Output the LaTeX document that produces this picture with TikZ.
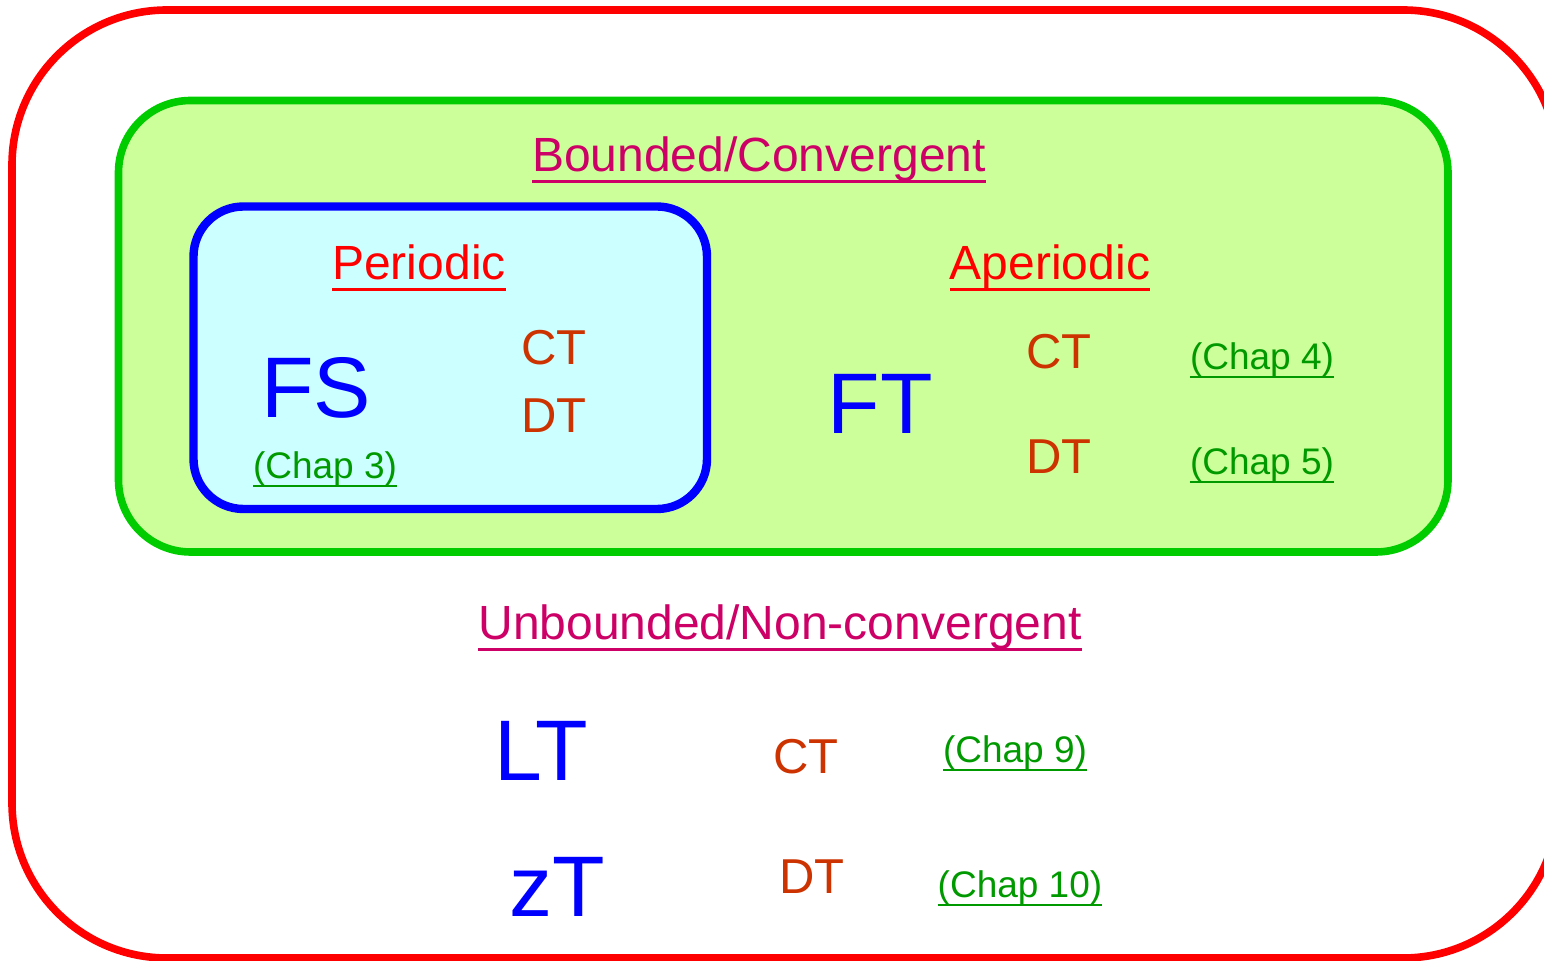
\documentclass[tikz,border=0pt]{standalone}
\usepackage{fontspec}
\setmainfont{Liberation Sans}
\definecolor{ftred}{RGB}{255,0,0}
\definecolor{ftgreen}{RGB}{0,204,0}
\definecolor{ftlime}{RGB}{204,255,153}
\definecolor{ftblue}{RGB}{0,0,255}
\definecolor{ftcyan}{RGB}{204,255,255}
\definecolor{ftrose}{RGB}{204,0,102}
\definecolor{ftrust}{RGB}{204,51,0}
\definecolor{ftchap}{RGB}{0,153,0}
\def\ftUl#1{\setbox0\hbox{#1}\rlap{\vrule height -0.16em depth 0.22em width \wd0}\box0}
\def\ftChap#1#2#3{\node[ftch] (#1) at (#2) {\ftUl{(Chap #3)}};}
\def\ftDom#1#2#3{\node[ftdom] (#1) at (#2) {#3};}

\begin{document}
\begin{tikzpicture}[
    x=0.5pt, y=-0.5pt,
    ftbox/.style  = {line width=3.8pt},
    fthead/.style = {font=\fontsize{24}{28}\selectfont, anchor=base, inner sep=0pt},
    ftbig/.style  = {font=\fontsize{43}{50}\selectfont, text=ftblue, anchor=base, inner sep=0pt},
    ftdom/.style  = {font=\fontsize{24.5}{28}\selectfont, text=ftrust, anchor=base, inner sep=0pt},
    ftch/.style   = {font=\fontsize{18.5}{22}\selectfont, text=ftchap, anchor=base, inner sep=0pt}]

  \useasboundingbox (0,0) rectangle (1544,961);

  %% ---- frames ------------------------------------------------------
  \draw[ftbox, ftred, rounded corners=77.5pt] (12,10) rectangle (1558,958);
  \draw[ftbox, ftgreen, fill=ftlime, rounded corners=36pt] (118.5,100.5) rectangle (1448,552);
  \draw[ftbox, ftblue, fill=ftcyan, rounded corners=25pt, line width=4.2pt] (193.5,206.5) rectangle (707,509);

  %% ---- bounded -----------------------------------------------------
  \node[fthead, text=ftrose] (bnd) at (759,172) {\ftUl{Bounded/Convergent}};

  \node[fthead, text=ftred] (per) at (419,280) {\ftUl{Periodic}};
  \node[ftbig] (fs) at (316,418) {FS};
  \ftDom{perct}{554,365}{CT}
  \ftDom{perdt}{554,433}{DT}
  \ftChap{ch3}{325,479}{3}

  \node[fthead, text=ftred] (aper) at (1050,280) {\ftUl{Aperiodic}};
  \node[ftbig] (ft) at (880,434) {FT};
  \ftDom{aperct}{1059,369}{CT}
  \ftDom{aperdt}{1059,474}{DT}
  \ftChap{ch4}{1262,370}{4}
  \ftChap{ch5}{1262,475}{5}

  %% ---- unbounded ---------------------------------------------------
  \node[fthead, text=ftrose] (unb) at (780,640) {\ftUl{Unbounded/Non-convergent}};
  \node[ftbig] (lt) at (541,781) {LT};
  \node[ftbig] (zt) at (557,917) {zT};
  \ftDom{unbct}{806,774}{CT}
  \ftDom{unbdt}{812,894}{DT}
  \ftChap{ch9}{1015,763}{9}
  \ftChap{ch10}{1020,898}{10}
\end{tikzpicture}
\end{document}
